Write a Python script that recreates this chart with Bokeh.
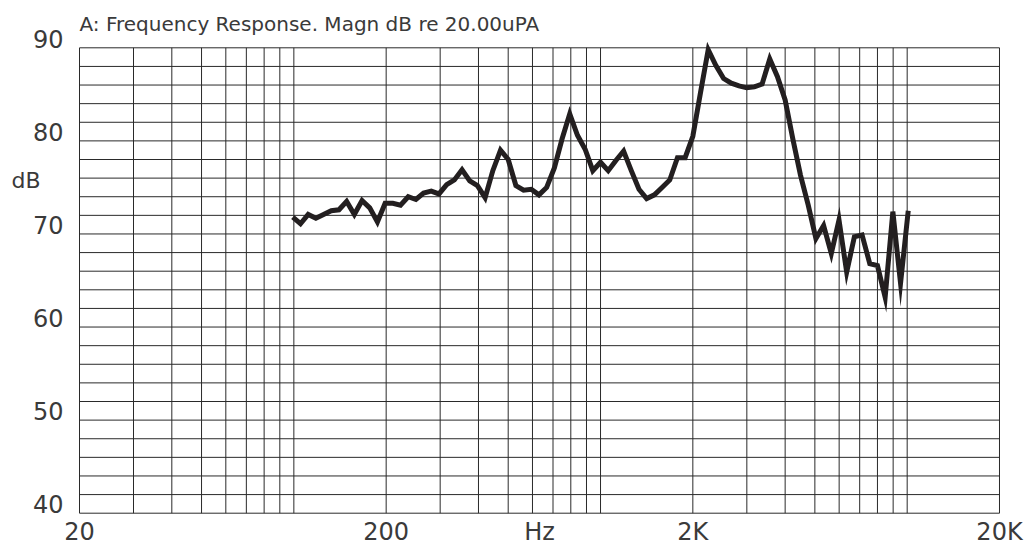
from bokeh.plotting import figure
from bokeh.models import FixedTicker, LinearAxis, Range1d, Title
from bokeh.embed import file_html
from bokeh.resources import INLINE

# 1/12-octave frequencies (Hz)
freq_hz = [99.21, 105.11, 111.36, 117.98, 125.0, 132.43, 140.31, 148.65, 157.49, 166.86,
           176.78, 187.29, 198.43, 210.22, 222.72, 235.97, 250.0, 264.87, 280.62, 297.30,
           314.98, 333.71, 353.55, 374.58, 396.85, 420.45, 445.45, 471.94, 500.0, 529.73,
           561.23, 594.60, 629.96, 667.42, 707.11, 749.15, 793.70, 840.90, 890.90, 943.87,
           1000.0, 1059.46, 1122.46, 1189.21, 1259.92, 1334.84, 1414.21, 1498.31, 1587.40, 1681.79,
           1781.80, 1887.75, 2000.0, 2118.93, 2244.92, 2378.41, 2519.84, 2669.68, 2828.43, 2996.61,
           3174.80, 3363.59, 3563.59, 3775.50, 4000.0, 4237.85, 4489.85, 4756.83, 5039.68, 5339.36,
           5656.85, 5993.23, 6349.60, 6727.17, 7127.19, 7551.00, 8000.0, 8475.70, 8979.70, 9513.66,
           10079.37]

# Magnitude (dB re 20 uPa)
magn_db = [71.8, 71.1, 72.1, 71.7, 72.1, 72.5, 72.6, 73.5, 72.1, 73.6,
           72.8, 71.3, 73.3, 73.3, 73.1, 74.0, 73.7, 74.4, 74.6, 74.3,
           75.3, 75.8, 76.9, 75.7, 75.2, 73.9, 76.8, 79.0, 78.0, 75.2,
           74.7, 74.8, 74.2, 75.0, 77.1, 80.2, 82.9, 80.6, 79.1, 76.8,
           77.7, 76.8, 77.9, 78.9, 76.8, 74.8, 73.8, 74.2, 75.0, 75.8,
           78.2, 78.2, 80.5, 85.2, 89.8, 88.1, 86.7, 86.2, 85.9, 85.7,
           85.8, 86.1, 88.8, 86.9, 84.4, 80.2, 76.3, 73.1, 69.5, 70.9,
           67.9, 71.5, 65.9, 69.7, 69.9, 66.8, 66.6, 63.2, 72.4, 64.7,
           72.5]

x_grid = [20, 30, 40, 50, 60, 70, 80, 90, 100,
          200, 300, 400, 500, 600, 700, 800, 900, 1000,
          2000, 3000, 4000, 5000, 6000, 7000, 8000, 9000, 10000, 20000]
y_grid = [40, 42, 44, 46, 48, 50, 52, 54, 56, 58, 60, 62, 64, 66, 68, 70,
          72, 74, 76, 78, 80, 82, 84, 86, 88, 90]

x_tick_values = [20, 200, 2000, 20000]
x_tick_labels = ["20", "200", "2K", "20K"]
y_tick_values = [90, 80, 70, 60, 50, 40]
y_tick_labels = ["90", "80", "70", "60", "50", "40"]

title_text = "A: Frequency Response. Magn dB re 20.00uPA"
x_label = "Hz"
y_label = "dB"

FONT = "DejaVu Sans"
TXT = "#3a3a3a"
GRID = "#2a2a2a"
X_MIN, X_MAX = 20, 20000
Y_MIN, Y_MAX = 40, 90
LABEL_LIFT = 1.0      # y tick labels sit just above their grid line (dB)
DB_LABEL_AT = 75.7    # vertical place of the "dB" caption (dB)
HZ_LABEL_AT = (X_MIN * X_MAX) ** 0.5   # "Hz" caption in the middle of the log axis


def no_ticks(ax):
    ax.axis_line_color = None
    ax.major_tick_line_color = None
    ax.minor_tick_line_color = None
    ax.major_tick_out = 0
    ax.major_tick_in = 0
    ax.minor_tick_out = 0
    ax.minor_tick_in = 0


p = figure(width=1029, height=548, x_axis_type="log",
           x_range=Range1d(19.85, 20151), y_range=Range1d(39.86, 91),
           output_backend="svg", toolbar_location=None,
           min_border_left=78, min_border_right=29,
           min_border_top=38, min_border_bottom=34)
p.background_fill_color = "white"
p.border_fill_color = "white"
p.outline_line_color = None
p.xgrid.visible = False
p.ygrid.visible = False

# grid lines (frame included)
p.segment(x0=x_grid, y0=[Y_MIN] * len(x_grid), x1=x_grid, y1=[Y_MAX] * len(x_grid),
          line_color=GRID, line_width=1)
p.segment(x0=[X_MIN] * len(y_grid), y0=y_grid, x1=[X_MAX] * len(y_grid), y1=y_grid,
          line_color=GRID, line_width=1)

p.line(freq_hz, magn_db, line_width=5, line_color="#231f20", line_join="miter")

# x axis: tick labels and the "Hz" caption on one row
xa = p.xaxis[0]
no_ticks(xa)
xa.ticker = FixedTicker(ticks=x_tick_values + [HZ_LABEL_AT])
overrides = dict(zip(x_tick_values, x_tick_labels))
overrides[HZ_LABEL_AT] = x_label
xa.major_label_overrides = overrides
xa.major_label_standoff = 3
xa.major_label_text_font = FONT
xa.major_label_text_font_size = "24px"
xa.major_label_text_color = TXT

# y axis
ya = p.yaxis[0]
no_ticks(ya)
ytick_pos = [v + LABEL_LIFT for v in y_tick_values]
ya.ticker = FixedTicker(ticks=ytick_pos)
ya.major_label_overrides = dict(zip(ytick_pos, y_tick_labels))
ya.major_label_standoff = 15
ya.major_label_text_font = FONT
ya.major_label_text_font_size = "24px"
ya.major_label_text_color = TXT

# "dB" caption as a second left axis
ya2 = LinearAxis(ticker=FixedTicker(ticks=[DB_LABEL_AT]),
                 major_label_overrides={DB_LABEL_AT: y_label},
                 major_label_standoff=-11,
                 major_label_text_font=FONT, major_label_text_font_size="22px",
                 major_label_text_color=TXT)
no_ticks(ya2)
p.add_layout(ya2, "left")

p.title = Title(text=title_text, align="left", offset=1, standoff=5,
                text_font=FONT, text_font_size="20px", text_font_style="normal",
                text_color=TXT)

open("out.html", "w").write(file_html(p, INLINE))
